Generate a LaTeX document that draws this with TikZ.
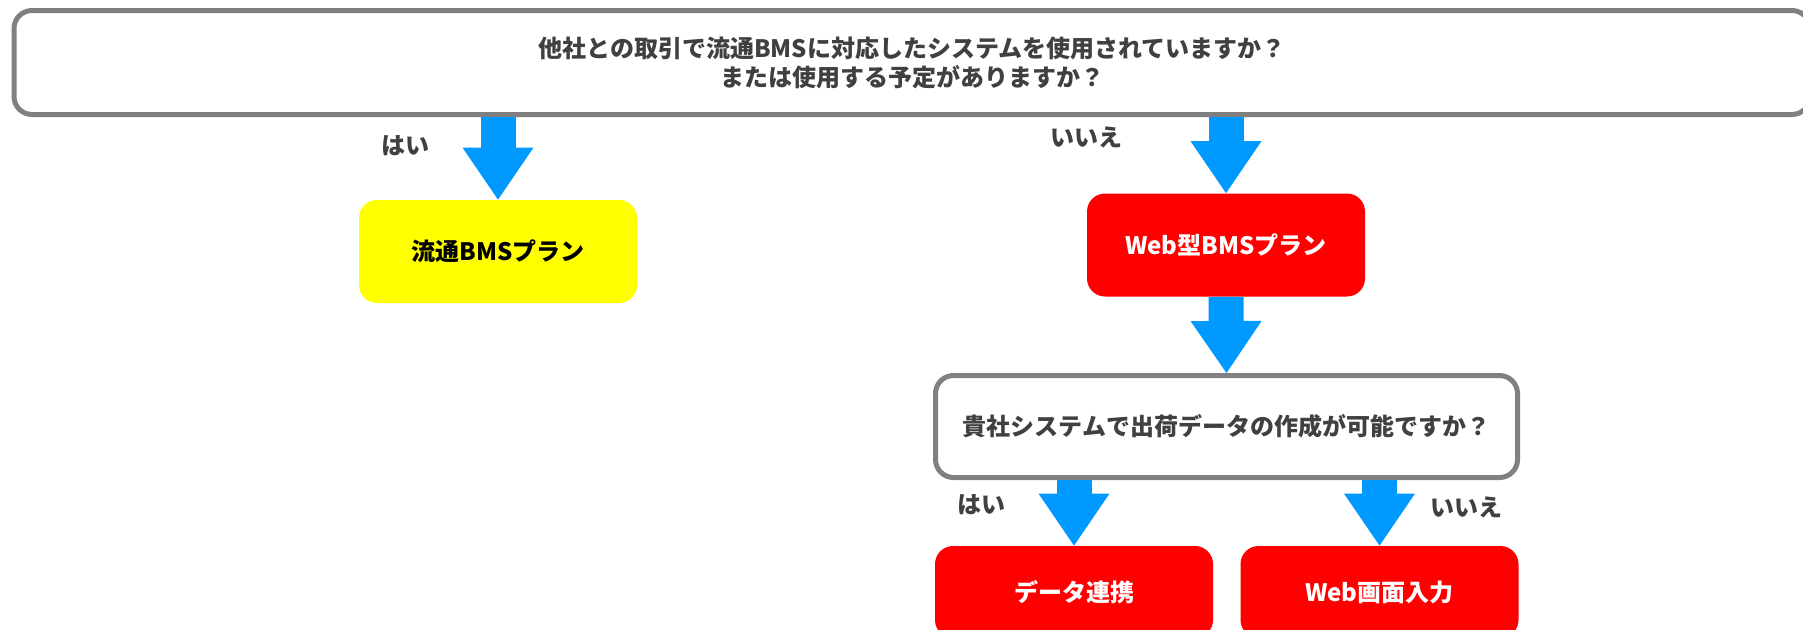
\documentclass[tikz,border=0pt]{standalone}
\usepackage{fontspec}
\setmainfont{Noto Sans CJK JP}
\usetikzlibrary{arrows.meta}
\definecolor{askgray}{HTML}{808080}
\definecolor{txtgray}{HTML}{404040}
\definecolor{flowblue}{HTML}{0099FF}
\definecolor{planred}{HTML}{FF0000}
\definecolor{planyellow}{HTML}{FFFF00}
\begin{document}
\begin{tikzpicture}[x=0.5pt,y=-0.5pt]
\tikzstyle{every node}=[font=\fontsize{12}{14.5}\selectfont\bfseries,inner sep=0pt];
\tikzstyle{ask}=[draw=askgray,line width=2.5pt,rounded corners=9pt,fill=white,text=txtgray,align=center];
\tikzstyle{plan}=[rounded corners=9pt,minimum width=139pt,minimum height=51.5pt];
\tikzstyle{flow}=[flowblue,line width=17.5pt,-{Triangle[width=35.5pt,length=26pt,line width=0pt]}];
\tikzstyle{ans}=[text=txtgray];
\useasboundingbox (0,0) rectangle (1803,629);
\node[ask,minimum width=898pt,minimum height=52pt] (q1) at (912,62.5) {他社との取引で流通BMSに対応したシステムを使用されていますか？\\または使用する予定がありますか？};
\node[plan,fill=planyellow,text=black] (bms) at (498,251.5) {流通BMSプラン};
\node[plan,fill=planred,text=white] (web) at (1226,245) {Web型BMSプラン};
\node[ask,minimum width=291pt,minimum height=51pt] (q2) at (1226.5,426.5) {貴社システムで出荷データの作成が可能ですか？};
\node[plan,fill=planred,text=white,minimum height=46pt] (link) at (1074,592) {データ連携};
\node[plan,fill=planred,text=white,minimum height=46pt] (input) at (1379.5,592) {Web画面入力};
\node[ans] (yes1) at (405,146) {はい};
\node[ans] (no1) at (1086,137) {いいえ};
\node[ans] (yes2) at (981,505) {はい};
\node[ans] (no2) at (1466,507) {いいえ};
\draw[flow] (bms.north |- q1.south) -- (bms.north);
\draw[flow] (web.north |- q1.south) -- (web.north);
\draw[flow] (web.south) -- (q2.north);
\draw[flow] (link.north |- q2.south) -- (link.north);
\draw[flow] (input.north |- q2.south) -- (input.north);
\end{tikzpicture}
\end{document}
